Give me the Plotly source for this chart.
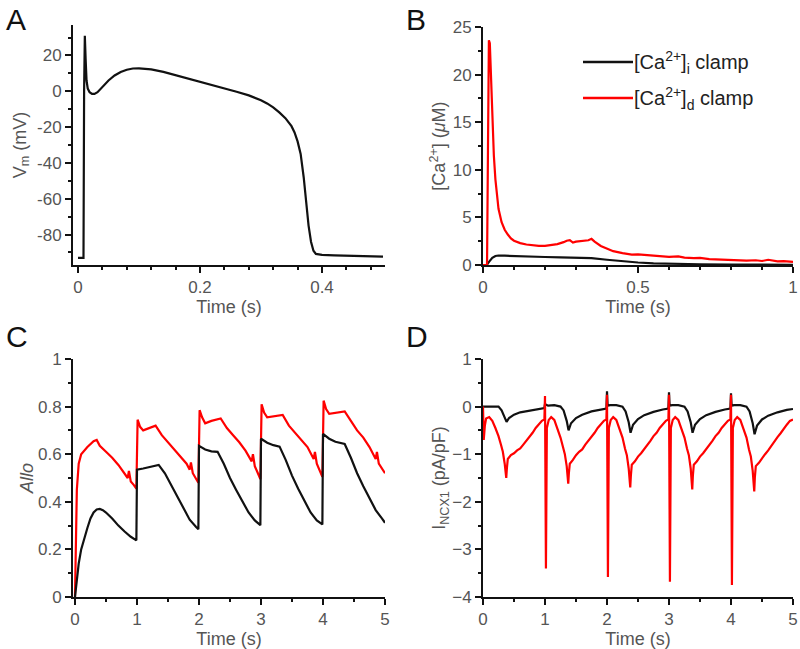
import plotly.graph_objects as go

# ---------------- Panel A: action potential ----------------
a_time = [0.0, 0.009, 0.0100, 0.0112, 0.0125, 0.014, 0.016, 0.019, 0.023, 0.027, 0.032,
          0.04, 0.05, 0.06, 0.07, 0.08, 0.09, 0.10, 0.11, 0.12, 0.14, 0.16, 0.18, 0.20,
          0.22, 0.24, 0.26, 0.28, 0.30, 0.31, 0.32, 0.33, 0.34, 0.35, 0.355, 0.36, 0.365,
          0.37, 0.374, 0.378, 0.382, 0.386, 0.39, 0.40, 0.42, 0.45, 0.50]
a_vm = [-93.0, -93.0, 0.0, 31.0, 18.0, 6.0, 1.5, -0.5, -1.5, -1.5, -0.5,
        2.5, 6.0, 8.8, 10.8, 12.0, 12.7, 12.8, 12.6, 12.2, 10.8, 9.0, 7.2, 5.4,
        3.5, 1.6, -0.3, -2.3, -5.0, -6.8, -9.0, -11.8, -15.0, -19.5, -23.0, -28.0, -35.0,
        -48.0, -62.0, -75.0, -84.0, -89.0, -90.8, -91.3, -91.6, -92.0, -92.3]

# ---------------- Panel B: Ca transients ----------------
b_time_i = [0.0, 0.012, 0.02, 0.03, 0.04, 0.05, 0.07, 0.10, 0.15, 0.20, 0.25, 0.30, 0.35,
            0.40, 0.45, 0.50, 0.55, 0.60, 0.70, 0.80, 0.90, 1.00]
b_ca_i = [0.0, 0.0, 0.35, 0.75, 0.95, 1.0, 0.98, 0.93, 0.88, 0.84, 0.80, 0.77, 0.72,
          0.55, 0.38, 0.26, 0.18, 0.13, 0.08, 0.05, 0.03, 0.02]

b_time_d = [0.0, 0.013, 0.016, 0.019, 0.022, 0.026, 0.030, 0.035, 0.040, 0.045, 0.05, 0.06,
            0.07, 0.08, 0.09, 0.10, 0.12, 0.14, 0.16, 0.18, 0.20, 0.22, 0.24, 0.26, 0.27,
            0.28, 0.29, 0.30, 0.32, 0.34, 0.35, 0.36, 0.38, 0.40, 0.42, 0.45, 0.48, 0.50,
            0.53, 0.55, 0.58, 0.60, 0.63, 0.65, 0.68, 0.70, 0.73, 0.75, 0.78, 0.80, 0.83,
            0.85, 0.88, 0.90, 0.92, 0.95, 0.97, 1.00]
b_ca_d = [0.0, 0.0, 12.0, 23.6, 23.3, 19.0, 15.0, 11.5, 9.0, 7.2, 5.9, 4.5,
          3.7, 3.2, 2.8, 2.55, 2.3, 2.15, 2.05, 2.0, 2.0, 2.1, 2.2, 2.4, 2.55,
          2.6, 2.35, 2.45, 2.5, 2.6, 2.75, 2.45, 2.0, 1.7, 1.45, 1.25, 1.1, 1.12,
          1.05, 1.0, 0.95, 0.85, 0.9, 0.78, 0.72, 0.75, 0.62, 0.6, 0.55, 0.58, 0.48,
          0.45, 0.5, 0.42, 0.55, 0.38, 0.4, 0.32]

# ---------------- Panel C: Allo ----------------
c_time_i = [0.0, 0.03, 0.06, 0.1, 0.15, 0.2, 0.25, 0.3, 0.35, 0.4, 0.45, 0.5, 0.6, 0.7, 0.8,
            0.9, 0.99, 1.0, 1.1, 1.2, 1.35, 1.45, 1.55, 1.65, 1.75, 1.85, 1.95, 1.99,
            2.0, 2.1, 2.2, 2.3, 2.4, 2.5, 2.6, 2.7, 2.8, 2.9, 2.99,
            3.0, 3.1, 3.2, 3.3, 3.4, 3.5, 3.6, 3.7, 3.8, 3.9, 3.99,
            4.0, 4.1, 4.2, 4.35, 4.45, 4.55, 4.65, 4.75, 4.85, 4.95, 5.0]
c_allo_i = [0.0, 0.08, 0.14, 0.2, 0.25, 0.29, 0.33, 0.355, 0.368, 0.37, 0.365, 0.355, 0.33,
            0.3, 0.275, 0.253, 0.238, 0.535, 0.54, 0.545, 0.555, 0.52, 0.47, 0.42, 0.37,
            0.325, 0.295, 0.285,
            0.635, 0.62, 0.612, 0.61, 0.56, 0.50, 0.45, 0.40, 0.355, 0.322, 0.302,
            0.665, 0.648, 0.638, 0.632, 0.575, 0.51, 0.455, 0.405, 0.355, 0.322, 0.305,
            0.685, 0.665, 0.652, 0.643, 0.585, 0.52, 0.465, 0.415, 0.365, 0.33, 0.312]

c_time_d = [0.0, 0.015, 0.03, 0.06, 0.1, 0.2, 0.3, 0.35, 0.4, 0.5, 0.6, 0.7, 0.8, 0.85,
            0.87, 0.9, 0.95, 0.99,
            1.01, 1.05, 1.1, 1.2, 1.3, 1.4, 1.5, 1.6, 1.7, 1.8, 1.85, 1.87, 1.9, 1.95, 1.99,
            2.01, 2.05, 2.1, 2.2, 2.35, 2.45, 2.55, 2.65, 2.75, 2.85, 2.87, 2.9, 2.95, 2.99,
            3.01, 3.05, 3.1, 3.2, 3.35, 3.45, 3.55, 3.65, 3.75, 3.85, 3.87, 3.9, 3.95, 3.99,
            4.01, 4.05, 4.1, 4.2, 4.35, 4.45, 4.55, 4.65, 4.75, 4.85, 4.87, 4.9, 4.95, 5.0]
c_allo_d = [0.0, 0.25, 0.45, 0.56, 0.6, 0.63, 0.655, 0.66, 0.635, 0.61, 0.585, 0.555, 0.52,
            0.5, 0.53, 0.485, 0.47, 0.455,
            0.745, 0.715, 0.7, 0.71, 0.72, 0.68, 0.65, 0.62, 0.59, 0.56, 0.535, 0.565, 0.52,
            0.5, 0.48,
            0.785, 0.755, 0.73, 0.74, 0.75, 0.71, 0.68, 0.65, 0.615, 0.57, 0.6, 0.55, 0.52,
            0.495,
            0.81, 0.775, 0.755, 0.76, 0.765, 0.72, 0.69, 0.66, 0.63, 0.58, 0.61, 0.56, 0.53,
            0.505,
            0.825, 0.79, 0.77, 0.775, 0.78, 0.74, 0.70, 0.67, 0.63, 0.58, 0.61, 0.56, 0.54,
            0.52]

# ---------------- Panel D: I_NCX1 ----------------
d_time_i = [0.0, 0.25, 0.3, 0.35, 0.38, 0.42, 0.5, 0.6, 0.75, 0.9, 0.99,
            1.0, 1.05, 1.15, 1.25, 1.3, 1.35, 1.38, 1.42, 1.5, 1.6, 1.75, 1.9, 1.99,
            2.0, 2.01, 2.05, 2.15, 2.25, 2.3, 2.35, 2.38, 2.42, 2.5, 2.6, 2.75, 2.9, 2.99,
            3.0, 3.01, 3.05, 3.15, 3.25, 3.3, 3.35, 3.38, 3.42, 3.5, 3.6, 3.75, 3.9, 3.99,
            4.0, 4.01, 4.05, 4.15, 4.25, 4.3, 4.35, 4.38, 4.42, 4.5, 4.6, 4.75, 4.9, 5.0]
d_incx_i = [0.0, 0.0, -0.08, -0.22, -0.32, -0.24, -0.17, -0.12, -0.08, -0.05, -0.03,
            0.05, 0.02, 0.03, 0.0, -0.08, -0.3, -0.5, -0.35, -0.24, -0.17, -0.1, -0.06, -0.04,
            0.32, 0.02, 0.03, 0.03, 0.0, -0.1, -0.33, -0.55, -0.38, -0.26, -0.18, -0.11, -0.06,
            -0.04,
            0.3, 0.02, 0.03, 0.03, 0.0, -0.1, -0.33, -0.55, -0.38, -0.26, -0.18, -0.11, -0.06,
            -0.04,
            0.28, 0.02, 0.03, 0.03, 0.0, -0.1, -0.35, -0.58, -0.4, -0.27, -0.19, -0.12, -0.07,
            -0.05]

d_time_d = [0.0, 0.012, 0.03, 0.05, 0.1, 0.15, 0.2, 0.25, 0.29, 0.32, 0.35, 0.375, 0.385,
            0.4, 0.45, 0.5, 0.55, 0.6, 0.65, 0.7, 0.75, 0.8, 0.85, 0.9, 0.95, 0.99,
            1.0, 1.015, 1.03, 1.06, 1.1, 1.15, 1.2, 1.25, 1.29, 1.32, 1.35, 1.375, 1.385,
            1.4, 1.45, 1.5, 1.55, 1.6, 1.65, 1.7, 1.75, 1.8, 1.85, 1.9, 1.95, 1.99,
            2.0, 2.015, 2.03, 2.06, 2.1, 2.15, 2.2, 2.25, 2.29, 2.32, 2.35, 2.375, 2.385,
            2.4, 2.45, 2.5, 2.55, 2.6, 2.65, 2.7, 2.75, 2.8, 2.85, 2.9, 2.95, 2.99,
            3.0, 3.015, 3.03, 3.06, 3.1, 3.15, 3.2, 3.25, 3.29, 3.32, 3.35, 3.375, 3.385,
            3.4, 3.45, 3.5, 3.55, 3.6, 3.65, 3.7, 3.75, 3.8, 3.85, 3.9, 3.95, 3.99,
            4.0, 4.015, 4.03, 4.06, 4.1, 4.15, 4.2, 4.25, 4.29, 4.32, 4.35, 4.375, 4.385,
            4.4, 4.45, 4.5, 4.55, 4.6, 4.65, 4.7, 4.75, 4.8, 4.85, 4.9, 4.95, 5.0]
d_incx_d = [0.0, -0.7, -0.4, -0.25, -0.22, -0.3, -0.45, -0.62, -0.8, -0.95, -1.2, -1.5, -1.3,
            -1.1, -1.02, -0.98, -0.92, -0.88, -0.8, -0.72, -0.62, -0.55, -0.45, -0.38, -0.3,
            -0.27,
            0.22, -3.4, -0.45, -0.28, -0.22, -0.28, -0.45, -0.65, -0.85, -1.0, -1.25, -1.62,
            -1.4, -1.2, -1.12, -1.02, -0.95, -0.9, -0.8, -0.72, -0.62, -0.55, -0.45, -0.38,
            -0.3, -0.27,
            0.25, -3.58, -0.45, -0.28, -0.22, -0.28, -0.45, -0.65, -0.88, -1.02, -1.3, -1.7,
            -1.45, -1.22, -1.15, -1.05, -0.98, -0.9, -0.8, -0.72, -0.62, -0.55, -0.45, -0.38,
            -0.3, -0.27,
            0.25, -3.68, -0.45, -0.28, -0.22, -0.28, -0.45, -0.65, -0.88, -1.02, -1.3, -1.74,
            -1.45, -1.22, -1.15, -1.05, -0.98, -0.9, -0.8, -0.72, -0.62, -0.55, -0.45, -0.38,
            -0.3, -0.27,
            0.25, -3.75, -0.45, -0.28, -0.22, -0.28, -0.45, -0.65, -0.9, -1.05, -1.35, -1.78,
            -1.48, -1.25, -1.18, -1.08, -1.0, -0.92, -0.82, -0.74, -0.64, -0.56, -0.46, -0.38,
            -0.3, -0.27]

legend_labels = ["[Ca<sup>2+</sup>]<sub>i</sub> clamp", "[Ca<sup>2+</sup>]<sub>d</sub> clamp"]
panel_letters = ["A", "B", "C", "D"]

BLACK = "#111111"
RED = "#ff0000"
FONT = "Liberation Sans, Arial, Helvetica, sans-serif"
GRAY = "#555555"
W, H = 800, 649

fig = go.Figure()
lw = 2.2
fig.add_trace(go.Scatter(x=a_time, y=a_vm, mode="lines", line=dict(color=BLACK, width=lw),
                         xaxis="x", yaxis="y", showlegend=False))
fig.add_trace(go.Scatter(x=b_time_i, y=b_ca_i, mode="lines", line=dict(color=BLACK, width=lw),
                         xaxis="x2", yaxis="y2", name=legend_labels[0], showlegend=False))
fig.add_trace(go.Scatter(x=b_time_d, y=b_ca_d, mode="lines", line=dict(color=RED, width=lw),
                         xaxis="x2", yaxis="y2", name=legend_labels[1], showlegend=False))
fig.add_trace(go.Scatter(x=c_time_d, y=c_allo_d, mode="lines", line=dict(color=RED, width=lw),
                         xaxis="x3", yaxis="y3", showlegend=False))
fig.add_trace(go.Scatter(x=c_time_i, y=c_allo_i, mode="lines", line=dict(color=BLACK, width=lw),
                         xaxis="x3", yaxis="y3", showlegend=False))
fig.add_trace(go.Scatter(x=d_time_i, y=d_incx_i, mode="lines", line=dict(color=BLACK, width=lw),
                         xaxis="x4", yaxis="y4", showlegend=False))
fig.add_trace(go.Scatter(x=d_time_d, y=d_incx_d, mode="lines", line=dict(color=RED, width=lw),
                         xaxis="x4", yaxis="y4", showlegend=False))


def ax(domain, rng, dtick, minor, title, anchor, tickvals=None, standoff=3):
    d = dict(domain=domain, range=rng, showgrid=False, zeroline=False, showline=True,
             linecolor=BLACK, linewidth=2, ticks="outside", ticklen=6, tickwidth=2,
             tickcolor=BLACK, tickfont=dict(family=FONT, size=17, color=GRAY),
             title=dict(text=title, font=dict(family=FONT, size=18, color=GRAY),
                        standoff=standoff),
             minor=dict(ticks="outside", ticklen=3, tickwidth=2, tickcolor=BLACK, dtick=minor,
                        showgrid=False),
             anchor=anchor, fixedrange=True, automargin=False,
             ticklabeloverflow="allow")
    if tickvals is not None:
        d["tickmode"] = "array"
        d["tickvals"] = tickvals
        d["ticktext"] = [("%g" % v) for v in tickvals]
    else:
        d["dtick"] = dtick
        d["tick0"] = 0
    return d


xdomL = [73 / W, 385 / W]
xdomR = [483 / W, 793 / W]
ydomT = [1 - 265 / H, 1 - 25 / H]
ydomB = [1 - 597 / H, 1 - 359 / H]

fig.update_layout(
    width=W, height=H,
    margin=dict(l=0, r=0, t=0, b=0, autoexpand=False),
    paper_bgcolor="white", plot_bgcolor="white",
    font=dict(family=FONT, color=GRAY),
    xaxis=ax(xdomL, [-0.0082, 0.5033], 0.2, 0.04, "Time (s)", "y", tickvals=[0, 0.2, 0.4],
             standoff=0),
    yaxis=ax(ydomT, [-97, 37], 20, 10, "V<sub>m</sub> (mV)", "x",
             tickvals=[-80, -60, -40, -20, 0, 20], standoff=6),
    xaxis2=ax(xdomR, [0, 1], 0.5, 0.1, "Time (s)", "y2", standoff=0),
    yaxis2=ax([1 - 265 / H, 1 - 27 / H], [0, 25], 5, 2.5,
              "[Ca<sup>2+</sup>] (<i>μ</i>M)", "x2", standoff=2),
    xaxis3=ax(xdomL, [-0.032, 5], 1, 0.5, "Time (s)", "y3", standoff=0),
    yaxis3=ax(ydomB, [0, 1], 0.2, 0.1, "<i>Allo</i>", "x3", standoff=0),
    xaxis4=ax(xdomR, [0, 5], 1, 0.5, "Time (s)", "y4", standoff=0),
    yaxis4=ax(ydomB, [-4, 1], 1, 0.5, "I<sub>NCX1</sub> (pA/pF)", "x4", standoff=2),
    showlegend=False,
)

# legend for panel B (drawn in paper space)
legend_colors = [BLACK, RED]
legend_rows_px = [62, 98]
for label, color, py in zip(legend_labels, legend_colors, legend_rows_px):
    fig.add_shape(type="line", xref="paper", yref="paper",
                  x0=583 / W, x1=633 / W, y0=1 - py / H, y1=1 - py / H,
                  line=dict(color=color, width=2.5))
    fig.add_annotation(text=label, xref="paper", yref="paper", x=632 / W, y=1 - py / H,
                       xanchor="left", yanchor="middle", showarrow=False,
                       font=dict(family=FONT, size=20, color="#222222"))

letter_pos_px = [(4, 19), (404, 19), (4, 336), (404, 336)]
for letter, (lx, ly) in zip(panel_letters, letter_pos_px):
    fig.add_annotation(text=letter, x=lx / W, y=1 - ly / H, xref="paper", yref="paper",
                       xanchor="left", yanchor="middle", showarrow=False,
                       font=dict(family=FONT, size=30, color="#111111"))

fig.write_html("out.html", config={"displayModeBar": False},
               post_script="document.body.style.margin='0';document.body.style.padding='0';"
                           "document.body.style.overflow='hidden';")
